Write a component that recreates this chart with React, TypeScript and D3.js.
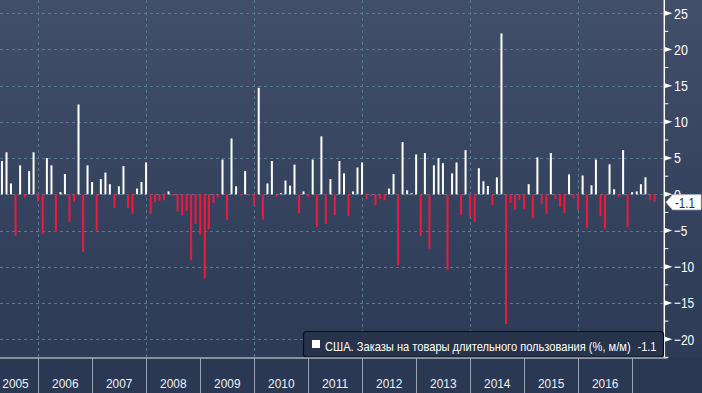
import React, { useLayoutEffect, useRef, useState } from "react";
import * as d3 from "d3";

// US durable goods orders, % m/m, monthly from Apr 2005 to May 2017
const yearLabels = ["2005", "2006", "2007", "2008", "2009", "2010", "2011", "2012", "2013", "2014", "2015", "2016"];
const yTicks = [25, 20, 15, 10, 5, 0, -5, -10, -15, -20];

const orders2005 = [4.6, 5.8, 1.5, -5.75, 4.0, -0.4, 3.2, 5.8, -1.0]; // Apr-Dec
const orders2006 = [-5.5, 5.0, 4.0, -5.2, 0.3, 2.8, -3.8, -1.0, 12.4, -8.0, 4.0, 1.7];
const orders2007 = [-5.1, 2.1, 3.0, 1.4, -1.9, 1.1, 3.9, -1.9, -2.7, 0.8, 1.7, 4.4];
const orders2008 = [-2.7, -1.1, -0.9, -0.8, 0.4, -0.25, -2.4, -2.9, -2.3, -9.1, -4.1, -5.6];
const orders2009 = [-11.6, -4.8, -1.2, -0.4, 4.8, -3.5, 7.7, 1.1, -0.2, 3.2, -0.2, -1.5];
const orders2010 = [14.7, -3.5, 1.5, 4.6, -0.4, 0.15, 1.9, 1.2, 4.1, -2.6, 0.4, -0.4];
const orders2011 = [4.8, -4.5, 8.0, -4.1, 2.1, -2.9, 4.6, 2.9, -3.0, 0.4, 3.7, 4.4];
const orders2012 = [-0.65, -0.25, -1.5, -0.65, -0.8, 0.8, 2.8, -9.8, 7.2, 0.55, 0.15, 5.5];
const orders2013 = [-5.75, 5.7, -7.5, 4.0, 5.0, 4.3, -10.4, 2.9, 4.4, -2.9, 6.1, -3.1];
const orders2014 = [-3.8, 3.6, 1.8, 1.15, -1.5, 2.35, 22.2, -17.9, -1.2, -2.15, -0.8, -2.0];
const orders2015 = [1.4, -3.3, 5.1, -1.3, -2.7, 5.7, -0.65, -1.75, -2.6, 2.75, -0.5, -2.15];
const orders2016 = [2.6, -4.65, 1.25, 4.8, -3.0, -4.8, 4.15, 0.7, -0.4, 6.1, -4.5, 0.3];
const orders2017 = [0.4, 1.4, 2.35, -0.8, -1.1]; // Jan-May

const lastValue = -1.1;
const legendLabel = "США. Заказы на товары длительного пользования (%, м/м)";

const W = 702;
const H = 393;
const AXIS_X = 664.3;
const PLOT_BOTTOM = 357.5;
const FONT = "'Liberation Sans', Arial, sans-serif";

// text squeezed horizontally to a given width, like the narrow terminal font
const FitText = ({ x, y, width, size, fill, anchor = "start", clip = undefined, children }) => {
  const ref = useRef(null);
  const [sx, setSx] = useState(1);
  useLayoutEffect(() => {
    if (!ref.current) return;
    const w = ref.current.getComputedTextLength();
    if (w > 0) setSx(width / w);
  }, [width, children]);
  return (
    <g clipPath={clip}>
      <text
        ref={ref}
        transform={`translate(${x},${y}) scale(${sx},1)`}
        fontSize={size}
        fontFamily={FONT}
        fill={fill}
        textAnchor={anchor}
      >
        {children}
      </text>
    </g>
  );
};

const App = () => {
  const values = [
    ...orders2005, ...orders2006, ...orders2007, ...orders2008, ...orders2009, ...orders2010,
    ...orders2011, ...orders2012, ...orders2013, ...orders2014, ...orders2015, ...orders2016, ...orders2017,
  ];
  const months = d3.timeMonth.range(new Date(2005, 3, 1), new Date(2017, 5, 1));
  // monthly points sit on the last day of the month
  const data = months.map((m, i) => ({
    date: d3.timeDay.offset(d3.timeMonth.offset(m, 1), -1),
    value: values[i],
  }));

  const x = d3.scaleTime()
    .domain([new Date(2006, 0, 1), new Date(2017, 0, 1)])
    .range([38.3, 632.3]);
  const y = d3.scaleLinear().domain([-20, 25]).range([339.2, 13.2]);

  const minorTicks = d3.range(-22.5, 25.1, 2.5);
  const gridYears = d3.range(2006, 2017, 2).map((yr) => new Date(yr, 0, 1));
  const yearStarts = d3.range(2006, 2018).map((yr) => new Date(yr, 0, 1));

  const labelWidth = (s: string) => s.replace("-", "").length * 6.9 + (s.startsWith("-") ? 6.5 : 0);
  const yLast = y(lastValue);

  return (
    <div style={{ position: "fixed", left: 0, top: 0, width: W, height: H, overflow: "hidden" }}>
      <svg width={W} height={H} style={{ display: "block" }}>
        <defs>
          <linearGradient id="bg" x1="0" y1="0" x2="0" y2="1">
            <stop offset="0%" stopColor="#414f6a" />
            <stop offset="50%" stopColor="#35435f" />
            <stop offset="100%" stopColor="#2c3954" />
          </linearGradient>
          {/* the zero label only peeks out above the last-value marker */}
          <clipPath id="zeroClip">
            <rect x={668} y={0} width={34} height={yLast - 7.5} />
          </clipPath>
        </defs>

        <rect x={0} y={0} width={W} height={H} fill="url(#bg)" />
        <rect x={0} y={PLOT_BOTTOM} width={W} height={H - PLOT_BOTTOM} fill="#2b3853" />

        {/* grid */}
        <g stroke="#5a7791" strokeWidth={1} strokeDasharray="3,3">
          {yTicks.map((t) => (
            <line key={`gy-${t}`} x1={0} x2={AXIS_X} y1={Math.round(y(t)) + 0.5} y2={Math.round(y(t)) + 0.5} />
          ))}
          {gridYears.map((d, i) => (
            <line key={`gx-${i}`} x1={Math.round(x(d)) + 0.5} x2={Math.round(x(d)) + 0.5} y1={0} y2={PLOT_BOTTOM} />
          ))}
        </g>

        {/* bars */}
        <g>
          {data.map((d, i) => (
            <rect
              key={i}
              x={x(d.date) - 1}
              width={2}
              y={y(Math.max(0, d.value))}
              height={Math.abs(y(d.value) - y(0))}
              fill={d.value >= 0 ? "#ffffff" : "#f2183c"}
            />
          ))}
        </g>

        {/* right axis */}
        <line x1={AXIS_X} x2={AXIS_X} y1={0} y2={PLOT_BOTTOM} stroke="#ffffff" strokeWidth={1.5} />
        {minorTicks.map((t) => (
          <line key={`mt-${t}`} x1={AXIS_X} x2={AXIS_X + 4} y1={y(t)} y2={y(t)} stroke="#ffffff" strokeWidth={1} />
        ))}
        {yTicks.map((t) => {
          const yy = y(t);
          const s = String(t);
          return (
            <g key={`yt-${t}`}>
              <polygon points={`${AXIS_X},${yy - 2.7} ${AXIS_X + 8},${yy} ${AXIS_X},${yy + 2.7}`} fill="#ffffff" />
              <FitText
                x={674}
                y={yy + 5.4}
                width={labelWidth(s)}
                size={15}
                fill="#ffffff"
                clip={t === 0 ? "url(#zeroClip)" : undefined}
              >
                {s.replace("-", "\u2212")}
              </FitText>
            </g>
          );
        })}

        {/* last value marker */}
        <g>
          <path
            d={`M666,${yLast} L672.5,${yLast - 7.5} L701,${yLast - 7.5} L701,${yLast + 7.5} L672.5,${yLast + 7.5} Z`}
            fill="#ffffff"
            stroke="#c9ced8"
            strokeWidth={0.8}
          />
          <FitText x={675} y={yLast + 5.4} width={20} size={15} fill="#1a2f5a">
            {lastValue.toFixed(1)}
          </FitText>
        </g>

        {/* legend */}
        <g>
          <rect x={303.5} y={331.5} width={360} height={25.5} rx={3} fill="#27324b" stroke="#0b0f18" strokeWidth={1.2} />
          <rect x={312} y={340} width={8} height={8} fill="#ffffff" />
          <FitText x={325} y={351} width={306} size={13} fill="#ffffff">
            {legendLabel}
          </FitText>
          <FitText x={637.5} y={351} width={19} size={13} fill="#ffffff">
            {lastValue.toFixed(1)}
          </FitText>
        </g>

        {/* bottom time axis */}
        <line x1={0} x2={AXIS_X + 3} y1={358} y2={358} stroke="#e6e9ef" strokeWidth={1} />
        {yearStarts.map((d, i) => (
          <line
            key={`sep-${i}`}
            x1={Math.round(x(d)) + 0.5}
            x2={Math.round(x(d)) + 0.5}
            y1={358}
            y2={H}
            stroke="#9aa3b2"
            strokeWidth={1}
          />
        ))}
        {yearLabels.map((lbl) => {
          const yr = +lbl;
          const cx = (x(new Date(yr, 0, 1)) + x(new Date(yr + 1, 0, 1))) / 2;
          return (
            <FitText key={lbl} x={Math.max(cx, 15.5)} y={388} width={26.5} size={13} fill="#eef0f4" anchor="middle">
              {lbl}
            </FitText>
          );
        })}
      </svg>
    </div>
  );
};

export default App;
